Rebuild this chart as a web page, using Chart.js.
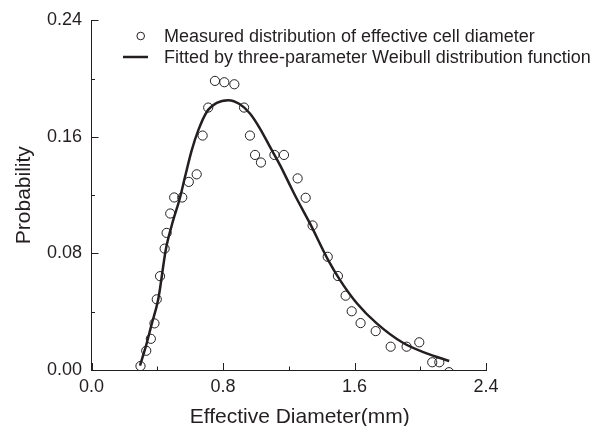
<!DOCTYPE html>
<html><head><meta charset="utf-8">
<script src="https://cdn.jsdelivr.net/npm/chart.js@4"></script>
<style>html,body{margin:0;padding:0;background:#fff}canvas{display:block}</style>
</head><body>
<canvas id="c" width="595" height="426"></canvas>
<script>
const measuredX = [0.298,0.333,0.361,0.383,0.397,0.417,0.445,0.457,0.479,0.503,0.552,0.592,0.640,0.676,0.710,0.751,0.808,0.869,0.928,0.964,0.995,1.031,1.113,1.171,1.254,1.303,1.345,1.437,1.499,1.546,1.583,1.637,1.729,1.820,1.917,1.994,2.073,2.116,2.175];
const measuredY = [0.0027,0.0132,0.0214,0.0320,0.0485,0.0644,0.0833,0.0941,0.1074,0.1184,0.1184,0.1291,0.1343,0.1609,0.1801,0.1984,0.1975,0.1961,0.1801,0.1609,0.1476,0.1424,0.1476,0.1476,0.1315,0.1182,0.0992,0.0777,0.0645,0.0510,0.0403,0.0322,0.0267,0.0160,0.0160,0.0190,0.0053,0.0053,-0.0015];
const fitX = [0.295,0.33,0.365,0.406,0.453,0.49,0.537,0.569,0.610,0.650,0.701,0.762,0.832,0.903,0.964,1.025,1.086,1.147,1.207,1.248,1.329,1.440,1.512,1.613,1.735,1.897,2.039,2.176];
const fitY = [0.003,0.016,0.031,0.0485,0.0832,0.100,0.1177,0.1326,0.1509,0.1646,0.1771,0.1833,0.1852,0.1824,0.1760,0.1657,0.1531,0.1406,0.1269,0.1177,0.1006,0.0754,0.0617,0.046,0.032,0.0185,0.0114,0.0062];
const xTicks = [0.0, 0.8, 1.6, 2.4];
const yTicks = [0.00, 0.08, 0.16, 0.24];
const xMinorTicks = [0.4, 1.2, 2.0];
const yMinorTicks = [0.04, 0.12, 0.20];
const legendLabels = ["Measured distribution of effective cell diameter", "Fitted by three-parameter Weibull distribution function"];
const xTitle = "Effective Diameter(mm)";
const yTitle = "Probability";

const FONT = "'Liberation Sans', Arial, sans-serif";
const INK = '#231f20';

const decor = {
  id: 'decor',
  afterDraw(chart) {
    const {ctx, chartArea: a, scales: {x, y}} = chart;
    ctx.save();
    ctx.strokeStyle = INK; ctx.lineWidth = 1;
    ctx.beginPath();
    xTicks.forEach(v => { const p = Math.round(x.getPixelForValue(v)) + 0.5; ctx.moveTo(p, a.bottom); ctx.lineTo(p, a.bottom - 7); });
    xMinorTicks.forEach(v => { const p = Math.round(x.getPixelForValue(v)) + 0.5; ctx.moveTo(p, a.bottom); ctx.lineTo(p, a.bottom - 3.5); });
    yTicks.forEach(v => { const p = Math.round(y.getPixelForValue(v)) + 0.5; ctx.moveTo(a.left, p); ctx.lineTo(a.left + 7, p); });
    yMinorTicks.forEach(v => { const p = Math.round(y.getPixelForValue(v)) + 0.5; ctx.moveTo(a.left, p); ctx.lineTo(a.left + 3.5, p); });
    ctx.stroke();
    // x axis title
    ctx.fillStyle = INK;
    ctx.font = '21px ' + FONT;
    ctx.textAlign = 'center'; ctx.textBaseline = 'alphabetic';
    ctx.fillText(xTitle, (a.left + a.right) / 2 + 11, 423);
    // legend
    ctx.font = '18px ' + FONT;
    ctx.textAlign = 'left';
    ctx.lineWidth = 1;
    ctx.beginPath(); ctx.arc(140.7, 36, 3.8, 0, Math.PI * 2); ctx.stroke();
    ctx.fillText(legendLabels[0], 164, 41.5);
    ctx.lineWidth = 2.5;
    ctx.beginPath(); ctx.moveTo(123, 57); ctx.lineTo(148, 57); ctx.stroke();
    ctx.fillText(legendLabels[1], 164, 63);
    ctx.restore();
  }
};

new Chart(document.getElementById('c'), {
  type: 'scatter',
  data: {
    datasets: [
      {
        label: legendLabels[1],
        data: fitX.map((v, i) => ({x: v, y: fitY[i]})),
        showLine: true,
        borderColor: INK,
        borderWidth: 2.5,
        pointRadius: 0,
        cubicInterpolationMode: 'monotone',
        fill: false
      },
      {
        label: legendLabels[0],
        data: measuredX.map((v, i) => ({x: v, y: measuredY[i]})),
        pointStyle: 'circle',
        pointRadius: 4.6,
        borderWidth: 1,
        borderColor: INK,
        backgroundColor: 'rgba(0,0,0,0)',
        clip: 0
      }
    ]
  },
  options: {
    responsive: false,
    animation: false,
    events: [],
    layout: {padding: {top: 20, right: 109, bottom: 0, left: 0}},
    plugins: {legend: {display: false}, tooltip: {enabled: false}},
    scales: {
      x: {
        type: 'linear', min: 0, max: 2.4,
        afterBuildTicks: s => { s.ticks = xTicks.map(v => ({value: v})); },
        ticks: {font: {size: 18, family: FONT}, color: INK, padding: 6, maxRotation: 0, autoSkip: false,
                callback: v => Number(v).toFixed(1)},
        grid: {display: false, drawTicks: false},
        border: {display: true, color: INK, width: 1},
        afterFit: s => { s.height = 56; }
      },
      y: {
        type: 'linear', min: 0, max: 0.24,
        afterBuildTicks: s => { s.ticks = yTicks.map(v => ({value: v})); },
        ticks: {font: {size: 18, family: FONT}, color: INK, padding: 9.5, autoSkip: false,
                callback: v => Number(v).toFixed(2)},
        grid: {display: false, drawTicks: false},
        border: {display: true, color: INK, width: 1},
        title: {display: true, text: yTitle, color: INK, font: {size: 21, family: FONT}, padding: {top: 12, bottom: 0}},
        afterFit: s => { s.width = 91.5; }
      }
    }
  },
  plugins: [decor]
});
</script>
</body></html>
